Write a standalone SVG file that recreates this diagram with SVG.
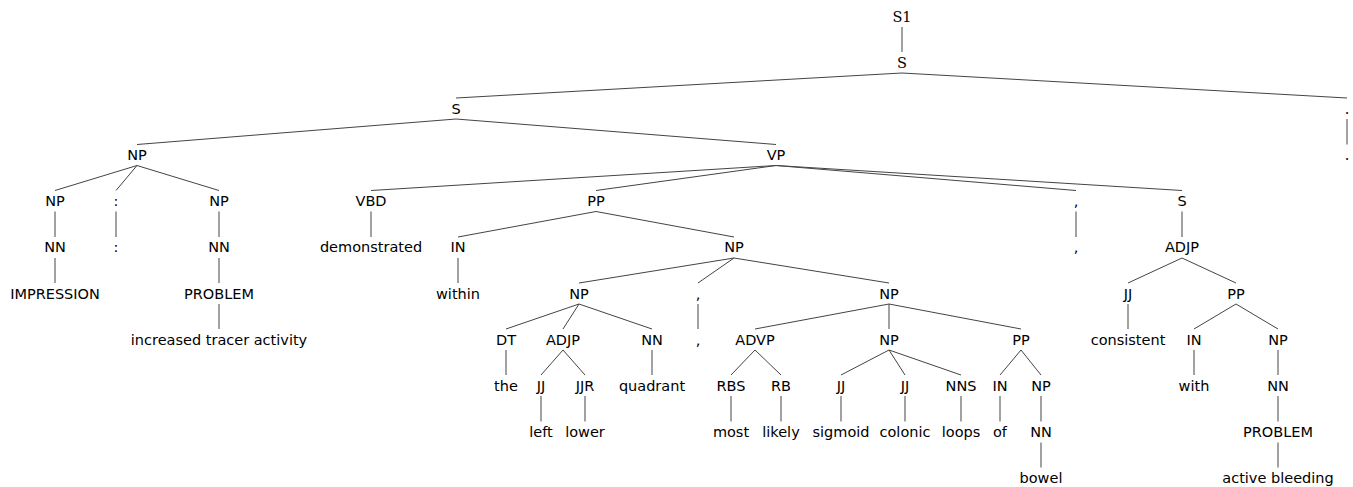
<svg xmlns="http://www.w3.org/2000/svg" width="1353" height="487" viewBox="0 0 1353 487">
<style>
text{font-family:"DejaVu Sans","Liberation Sans",sans-serif;font-size:14.5px;text-anchor:middle;fill:#000}
text.serif{font-family:"DejaVu Serif","Liberation Serif",serif}
#edges line{stroke:#444;stroke-width:1;fill:none}
</style>
<rect width="1353" height="487" fill="#fff"/>
<g id="edges">
<line x1="902" y1="27" x2="902" y2="52"/>
<line x1="902" y1="73" x2="456" y2="98"/>
<line x1="902" y1="73" x2="1347" y2="98"/>
<line x1="456" y1="119" x2="137" y2="144.5"/>
<line x1="456" y1="119" x2="776" y2="144.5"/>
<line x1="1347" y1="119" x2="1347" y2="144.5"/>
<line x1="137" y1="165.5" x2="55" y2="190.5"/>
<line x1="137" y1="165.5" x2="116" y2="190.5"/>
<line x1="137" y1="165.5" x2="219" y2="190.5"/>
<line x1="776" y1="165.5" x2="371" y2="190.5"/>
<line x1="776" y1="165.5" x2="596" y2="190.5"/>
<line x1="776" y1="165.5" x2="1076" y2="190.5"/>
<line x1="776" y1="165.5" x2="1182" y2="190.5"/>
<line x1="55" y1="211.5" x2="55" y2="237"/>
<line x1="116" y1="211.5" x2="116" y2="237"/>
<line x1="219" y1="211.5" x2="219" y2="237"/>
<line x1="371" y1="211.5" x2="371" y2="237"/>
<line x1="596" y1="211.5" x2="458" y2="237"/>
<line x1="596" y1="211.5" x2="734" y2="237"/>
<line x1="1076" y1="211.5" x2="1076" y2="237"/>
<line x1="1182" y1="211.5" x2="1182" y2="237"/>
<line x1="55" y1="258" x2="55" y2="283"/>
<line x1="219" y1="258" x2="219" y2="283"/>
<line x1="458" y1="258" x2="458" y2="283"/>
<line x1="734" y1="258" x2="579" y2="283"/>
<line x1="734" y1="258" x2="698" y2="283"/>
<line x1="734" y1="258" x2="889" y2="283"/>
<line x1="1182" y1="258" x2="1128" y2="283"/>
<line x1="1182" y1="258" x2="1236" y2="283"/>
<line x1="219" y1="304" x2="219" y2="329"/>
<line x1="579" y1="304" x2="506" y2="329"/>
<line x1="579" y1="304" x2="563" y2="329"/>
<line x1="579" y1="304" x2="652" y2="329"/>
<line x1="698" y1="304" x2="698" y2="329"/>
<line x1="889" y1="304" x2="755" y2="329"/>
<line x1="889" y1="304" x2="889" y2="329"/>
<line x1="889" y1="304" x2="1021" y2="329"/>
<line x1="1128" y1="304" x2="1128" y2="329"/>
<line x1="1236" y1="304" x2="1194" y2="329"/>
<line x1="1236" y1="304" x2="1278" y2="329"/>
<line x1="506" y1="350" x2="506" y2="375"/>
<line x1="563" y1="350" x2="541" y2="375"/>
<line x1="563" y1="350" x2="585" y2="375"/>
<line x1="652" y1="350" x2="652" y2="375"/>
<line x1="755" y1="350" x2="731" y2="375"/>
<line x1="755" y1="350" x2="781" y2="375"/>
<line x1="889" y1="350" x2="841" y2="375"/>
<line x1="889" y1="350" x2="905" y2="375"/>
<line x1="889" y1="350" x2="961" y2="375"/>
<line x1="1021" y1="350" x2="1000" y2="375"/>
<line x1="1021" y1="350" x2="1041" y2="375"/>
<line x1="1194" y1="350" x2="1194" y2="375"/>
<line x1="1278" y1="350" x2="1278" y2="375"/>
<line x1="541" y1="396" x2="541" y2="421.5"/>
<line x1="585" y1="396" x2="585" y2="421.5"/>
<line x1="731" y1="396" x2="731" y2="421.5"/>
<line x1="781" y1="396" x2="781" y2="421.5"/>
<line x1="841" y1="396" x2="841" y2="421.5"/>
<line x1="905" y1="396" x2="905" y2="421.5"/>
<line x1="961" y1="396" x2="961" y2="421.5"/>
<line x1="1000" y1="396" x2="1000" y2="421.5"/>
<line x1="1041" y1="396" x2="1041" y2="421.5"/>
<line x1="1278" y1="396" x2="1278" y2="421.5"/>
<line x1="1041" y1="442.5" x2="1041" y2="467.5"/>
<line x1="1278" y1="442.5" x2="1278" y2="467.5"/>
</g>
<g id="n0"><text class="serif" x="902" y="21.5">S1</text></g>
<g id="n1"><text class="serif" x="902" y="67.5">S</text></g>
<g id="n2"><text x="456" y="114">S</text></g>
<g id="n3"><text class="serif" x="1347" y="114">.</text></g>
<g id="n4"><text x="137" y="160">NP</text></g>
<g id="n5"><text x="776" y="160">VP</text></g>
<g id="n6"><text class="serif" x="1347" y="160">.</text></g>
<g id="n7"><text x="55" y="206">NP</text></g>
<g id="n8"><text x="116" y="206">:</text></g>
<g id="n9"><text x="219" y="206">NP</text></g>
<g id="n10"><text x="371" y="206">VBD</text></g>
<g id="n11"><text x="596" y="206">PP</text></g>
<g id="n12"><text x="1076" y="206">,</text></g>
<g id="n13"><text x="1182" y="206">S</text></g>
<g id="n14"><text x="55" y="252">NN</text></g>
<g id="n15"><text x="116" y="252">:</text></g>
<g id="n16"><text x="219" y="252">NN</text></g>
<g id="n17"><text x="371" y="252">demonstrated</text></g>
<g id="n18"><text x="458" y="252">IN</text></g>
<g id="n19"><text x="734" y="252">NP</text></g>
<g id="n20"><text x="1076" y="252">,</text></g>
<g id="n21"><text x="1182" y="252">ADJP</text></g>
<g id="n22"><text x="55" y="298.5">IMPRESSION</text></g>
<g id="n23"><text x="219" y="298.5">PROBLEM</text></g>
<g id="n24"><text x="458" y="298.5">within</text></g>
<g id="n25"><text x="579" y="298.5">NP</text></g>
<g id="n26"><text x="698" y="298.5">,</text></g>
<g id="n27"><text x="889" y="298.5">NP</text></g>
<g id="n28"><text x="1128" y="298.5">JJ</text></g>
<g id="n29"><text x="1236" y="298.5">PP</text></g>
<g id="n30"><text x="219" y="344.5">increased tracer activity</text></g>
<g id="n31"><text x="506" y="344.5">DT</text></g>
<g id="n32"><text x="563" y="344.5">ADJP</text></g>
<g id="n33"><text x="652" y="344.5">NN</text></g>
<g id="n34"><text x="698" y="344.5">,</text></g>
<g id="n35"><text x="755" y="344.5">ADVP</text></g>
<g id="n36"><text x="889" y="344.5">NP</text></g>
<g id="n37"><text x="1021" y="344.5">PP</text></g>
<g id="n38"><text x="1128" y="344.5">consistent</text></g>
<g id="n39"><text x="1194" y="344.5">IN</text></g>
<g id="n40"><text x="1278" y="344.5">NP</text></g>
<g id="n41"><text x="506" y="391">the</text></g>
<g id="n42"><text x="541" y="391">JJ</text></g>
<g id="n43"><text x="585" y="391">JJR</text></g>
<g id="n44"><text x="652" y="391">quadrant</text></g>
<g id="n45"><text x="731" y="391">RBS</text></g>
<g id="n46"><text x="781" y="391">RB</text></g>
<g id="n47"><text x="841" y="391">JJ</text></g>
<g id="n48"><text x="905" y="391">JJ</text></g>
<g id="n49"><text x="961" y="391">NNS</text></g>
<g id="n50"><text x="1000" y="391">IN</text></g>
<g id="n51"><text x="1041" y="391">NP</text></g>
<g id="n52"><text x="1194" y="391">with</text></g>
<g id="n53"><text x="1278" y="391">NN</text></g>
<g id="n54"><text x="541" y="437">left</text></g>
<g id="n55"><text x="585" y="437">lower</text></g>
<g id="n56"><text x="731" y="437">most</text></g>
<g id="n57"><text x="781" y="437">likely</text></g>
<g id="n58"><text x="841" y="437">sigmoid</text></g>
<g id="n59"><text x="905" y="437">colonic</text></g>
<g id="n60"><text x="961" y="437">loops</text></g>
<g id="n61"><text x="1000" y="437">of</text></g>
<g id="n62"><text x="1041" y="437">NN</text></g>
<g id="n63"><text x="1278" y="437">PROBLEM</text></g>
<g id="n64"><text x="1041" y="483">bowel</text></g>
<g id="n65"><text x="1278" y="483">active bleeding</text></g>
</svg>
